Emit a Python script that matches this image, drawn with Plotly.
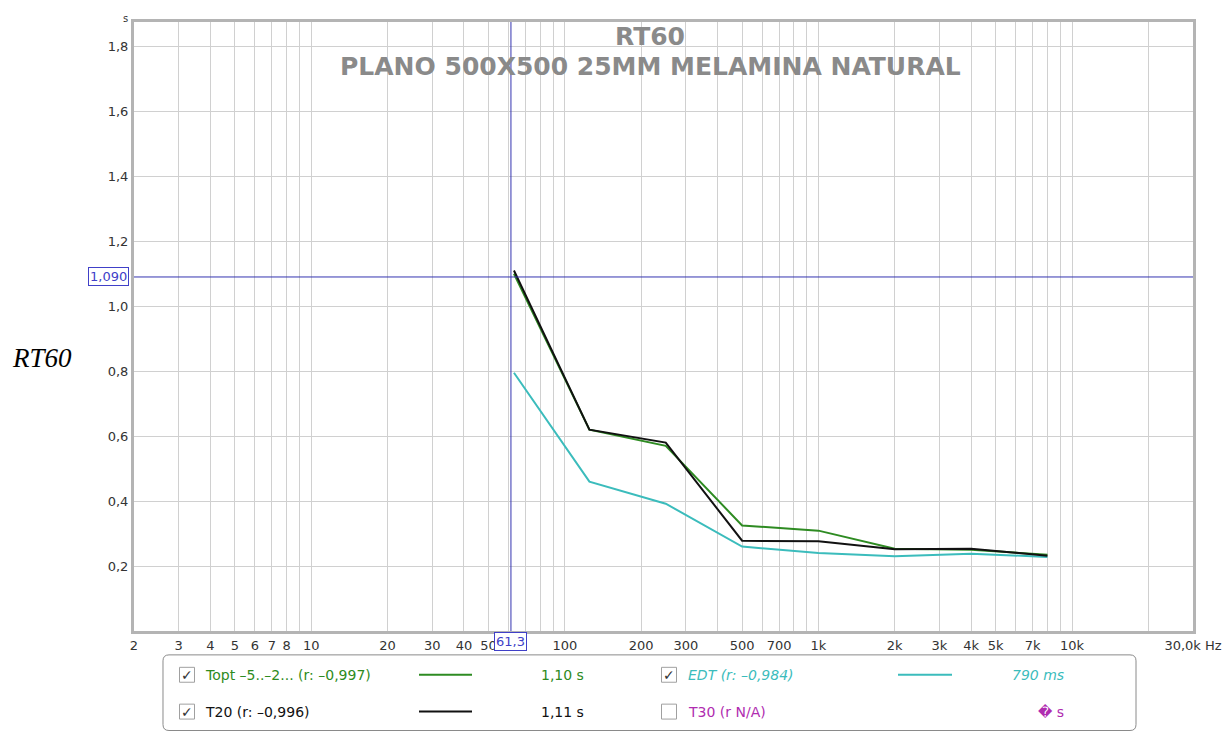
import math
import plotly.graph_objects as go

# ---------------- data ----------------
freqs = [63, 125, 250, 500, 1000, 2000, 4000, 8000]
topt = [1.10, 0.62, 0.57, 0.325, 0.309, 0.253, 0.250, 0.235]
t20 = [1.11, 0.62, 0.58, 0.278, 0.276, 0.252, 0.253, 0.232]
edt = [0.795, 0.46, 0.392, 0.260, 0.240, 0.230, 0.238, 0.228]

x_grid = [2, 3, 4, 5, 6, 7, 8, 9, 10, 20, 30, 40, 50, 60, 70, 80, 90,
          100, 200, 300, 400, 500, 600, 700, 800, 900,
          1000, 2000, 3000, 4000, 5000, 6000, 7000, 8000, 9000,
          10000, 20000, 30000]
x_labels = ["2", "3", "4", "5", "6", "7", "8", "", "10", "20", "30", "40", "50", "", "", "", "",
            "100", "200", "300", "", "500", "", "700", "", "",
            "1k", "2k", "3k", "4k", "5k", "", "7k", "", "",
            "10k", "", "30,0k Hz"]
y_vals = [0.2, 0.4, 0.6, 0.8, 1.0, 1.2, 1.4, 1.6, 1.8]
y_labels = ["0,2", "0,4", "0,6", "0,8", "1,0", "1,2", "1,4", "1,6", "1,8"]

cursor_x = 61.3
cursor_y = 1.090

title1 = "RT60"
title2 = "PLANO 500X500 25MM MELAMINA NATURAL"

# ---------------- layout geometry ----------------
# page body has an 8px margin; OFF compensates so positions match the screenshot
OFF = 8
W, H = 1232, 733
L, R, T, B = 134 - OFF, 1193 - OFF, 19 - OFF, 631 - OFF

def px(x):
    return (x - OFF - L) / (R - L)

def py(y):
    return (B - (y - OFF)) / (B - T)

GREEN = "#2e8b22"
BLACK = "#111111"
TEAL = "#3bbcbc"
MAGENTA = "#b02cb0"
BLUE = "#3434b0"
GRID = "#d0d0d0"
FONT = "DejaVu Sans"

fig = go.Figure()
fig.add_trace(go.Scatter(x=freqs, y=edt, mode="lines", line=dict(color=TEAL, width=2), name="EDT"))
fig.add_trace(go.Scatter(x=freqs, y=topt, mode="lines", line=dict(color=GREEN, width=2), name="Topt"))
fig.add_trace(go.Scatter(x=freqs, y=t20, mode="lines", line=dict(color=BLACK, width=2), name="T20"))

fig.update_xaxes(type="log", range=[math.log10(2), math.log10(30000)],
                 tickvals=x_grid, ticktext=x_labels, showgrid=True, gridcolor=GRID, gridwidth=1,
                 showline=True, linecolor="#b4b4b4", linewidth=3, mirror=True, ticks="",
                 zeroline=False, tickfont=dict(family=FONT, size=13, color="#333"))
fig.update_yaxes(range=[0, 1.875], tickvals=y_vals, ticktext=y_labels,
                 showgrid=True, gridcolor=GRID, gridwidth=1,
                 showline=True, linecolor="#b4b4b4", linewidth=3, mirror=True, ticks="",
                 zeroline=False, tickfont=dict(family=FONT, size=13, color="#333"))

shapes = []
annotations = []

def ann(**kw):
    kw.setdefault("showarrow", False)
    kw.setdefault("xanchor", "center")
    kw.setdefault("yanchor", "middle")
    annotations.append(kw)

# crosshair
shapes.append(dict(type="line", xref="x", yref="paper", x0=cursor_x, x1=cursor_x, y0=0, y1=1,
                   line=dict(color=BLUE, width=1)))
shapes.append(dict(type="line", xref="paper", yref="y", x0=0, x1=1, y0=cursor_y, y1=cursor_y,
                   line=dict(color=BLUE, width=1)))
ann(xref="paper", yref="y", x=px(108), y=cursor_y, text="1,090",
    font=dict(family=FONT, size=13, color="#4040c8"),
    bgcolor="white", bordercolor="#4040c8", borderwidth=1, borderpad=1)
ann(xref="x", yref="paper", x=math.log10(cursor_x), y=py(642), text="61,3",
    font=dict(family=FONT, size=13, color="#4040c8"),
    bgcolor="white", bordercolor="#4040c8", borderwidth=1, borderpad=1)

# titles
ann(xref="paper", yref="paper", x=px(650), y=py(34), text=title1,
    font=dict(family=FONT, size=25, color="#8a8a8a", weight="bold"))
ann(xref="paper", yref="paper", x=px(650), y=py(64), text=title2,
    font=dict(family=FONT, size=25, color="#8a8a8a", weight="bold"))
# unit
ann(xref="paper", yref="paper", x=px(125), y=py(15), text="s",
    font=dict(family=FONT, size=10, color="#333"))
# y title
ann(xref="paper", yref="paper", x=px(42), y=py(357), text="<i>RT60</i>",
    font=dict(family="Liberation Serif", size=27, color="black"))

# legend box (rounded)
x0, x1, y0, y1 = 163, 1136, 655, 731
r = 6
def P(x, y):
    return f"{px(x):.5f},{py(y):.5f}"
path = (f"M {P(x0 + r, y0)} L {P(x1 - r, y0)} Q {P(x1, y0)} {P(x1, y0 + r)} "
        f"L {P(x1, y1 - r)} Q {P(x1, y1)} {P(x1 - r, y1)} L {P(x0 + r, y1)} "
        f"Q {P(x0, y1)} {P(x0, y1 - r)} L {P(x0, y0 + r)} Q {P(x0, y0)} {P(x0 + r, y0)} Z")
shapes.append(dict(type="path", xref="paper", yref="paper", path=path,
                   line=dict(color="#8a8a8a", width=1), fillcolor="white"))

def checkbox(cx, cy, checked):
    shapes.append(dict(type="rect", xref="paper", yref="paper",
                       x0=px(cx - 7.5), x1=px(cx + 7.5), y0=py(cy + 7.5), y1=py(cy - 7.5),
                       line=dict(color="#a0a0a0", width=1), fillcolor="white"))
    if checked:
        ann(xref="paper", yref="paper", x=px(cx), y=py(cy), text="✓",
            font=dict(family=FONT, size=14, color="#333"))

def text(x, y, s, color, anchor="left", italic=False, size=14):
    ann(xref="paper", yref="paper", x=px(x), y=py(y), text=s, xanchor=anchor,
        font=dict(family=FONT, size=size, color=color,
                  style="italic" if italic else "normal"))

def sample(xa, xb, y, color):
    shapes.append(dict(type="line", xref="paper", yref="paper", x0=px(xa), x1=px(xb), y0=py(y), y1=py(y),
                       line=dict(color=color, width=2)))

row1, row2 = 675, 712
checkbox(187, row1, True)
text(203, row1, "Topt –5..–2... (r: –0,997)", GREEN)
sample(419, 472, row1, GREEN)
text(562, row1, "1,10 s", GREEN, anchor="center")

checkbox(187, row2, True)
text(203, row2, "T20 (r: –0,996)", BLACK)
sample(419, 472, row2, BLACK)
text(562, row2, "1,11 s", BLACK, anchor="center")

checkbox(669, row1, True)
text(686, row1, "EDT (r: –0,984)", TEAL, italic=True)
sample(898, 952, row1, TEAL)
text(1066, row1, "790 ms", TEAL, anchor="right", italic=True)

checkbox(669, row2, False)
text(686, row2, "T30 (r N/A)", MAGENTA)
text(1066, row2, "\ufffd s", MAGENTA, anchor="right")

fig.update_layout(width=W, height=H, margin=dict(l=L, r=W - R, t=T, b=H - B),
                  plot_bgcolor="white", paper_bgcolor="white", showlegend=False,
                  shapes=shapes, annotations=annotations)

fig.write_html("out.html")
